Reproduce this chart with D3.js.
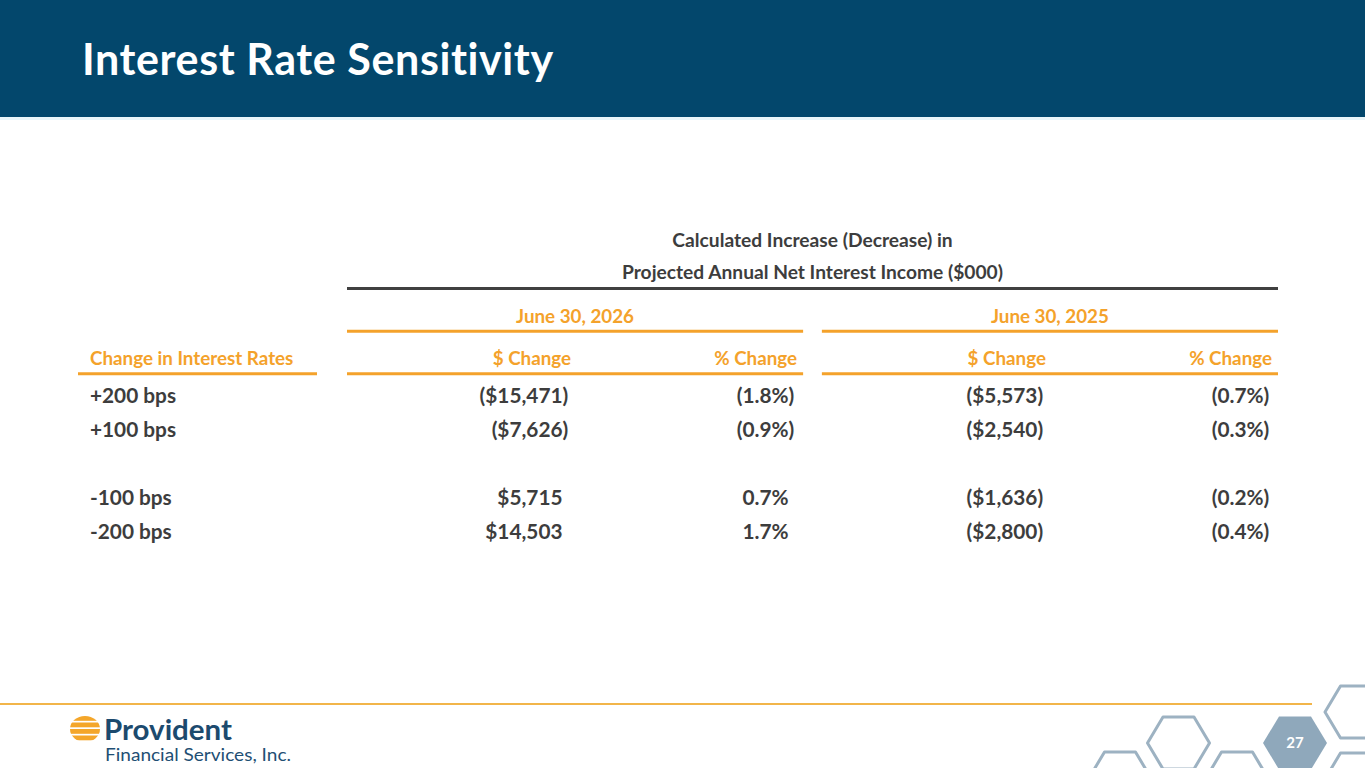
<!DOCTYPE html>
<html>
<head>
<meta charset="utf-8">
<script src="https://cdn.jsdelivr.net/npm/d3@7/dist/d3.min.js"></script>
<style>
  html, body { margin: 0; padding: 0; background: #ffffff; }
  svg { display: block; }
  text { font-family: Lato, "Open Sans", sans-serif; }
</style>
</head>
<body>
<svg id="chart" width="1365" height="768"></svg>
<script>
// ---- data ----
const title = "Interest Rate Sensitivity";
const tableTitle = ["Calculated Increase (Decrease) in", "Projected Annual Net Interest Income ($000)"];
const periods = ["June 30, 2026", "June 30, 2025"];
const measures = ["$ Change", "% Change"];
const rowHeader = "Change in Interest Rates";
const scenarios = ["+200 bps", "+100 bps", "", "-100 bps", "-200 bps"];
const dollar2026 = [-15471, -7626, null, 5715, 14503];
const pct2026 = [-1.8, -0.9, null, 0.7, 1.7];
const dollar2025 = [-5573, -2540, null, -1636, -2800];
const pct2025 = [-0.7, -0.3, null, -0.2, -0.4];
const pageNumber = "27";

// ---- colours ----
const NAVY = "#03476c", ORANGE = "#f4a22b", TEXT = "#3d3d3d", DARKLINE = "#404040";
const HEX_STROKE = "#9db2c2", HEX_FILL = "#8fa8bb";

const svg = d3.select("#chart");

// header band
svg.append("rect").attr("x", 0).attr("y", 0).attr("width", 1365).attr("height", 117).attr("fill", NAVY);
svg.append("rect").attr("x", 0).attr("y", 117).attr("width", 1365).attr("height", 3).attr("fill", "#eaf6fa");
svg.append("text").attr("x", 82).attr("y", 75)
  .attr("font-size", 43).attr("font-weight", 700).attr("fill", "#ffffff")
  .attr("letter-spacing", 0.6)
  .text(title);

// ---- table scales ----
const groupX = d3.scaleBand().domain(periods).range([347, 1278]).paddingInner(0.0395);
const colX = d3.scaleBand().domain(measures).range([0, groupX.bandwidth()]);
const rowY = d3.scalePoint().domain(d3.range(scenarios.length)).range([403, 539]);
const colRight = (p, m) => groupX(p) + colX(m) + colX.bandwidth() - (m === measures[0] ? 4 : 6); // header right edge
const DIGIT_OFFSET = 8.5; // hanging parenthesis width

const HEAD_SIZE = 18.8, DATA_SIZE = 20.8, TITLE_SIZE = 19.2;
const g = svg.append("g");

// table title
tableTitle.forEach((t, i) => {
  g.append("text").attr("x", (groupX.range()[0] + groupX.range()[1]) / 2).attr("y", 247 + i * 32)
    .attr("text-anchor", "middle").attr("font-size", TITLE_SIZE).attr("font-weight", 700).attr("fill", TEXT)
    .text(t);
});
// dark rule
g.append("line").attr("x1", groupX.range()[0]).attr("x2", groupX.range()[1])
  .attr("y1", 288.5).attr("y2", 288.5).attr("stroke", DARKLINE).attr("stroke-width", 3);

// period headers
periods.forEach(p => {
  g.append("text").attr("x", groupX(p) + groupX.bandwidth() / 2).attr("y", 323)
    .attr("text-anchor", "middle").attr("font-size", HEAD_SIZE).attr("font-weight", 700).attr("fill", ORANGE)
    .text(p);
  g.append("line").attr("x1", groupX(p)).attr("x2", groupX(p) + groupX.bandwidth())
    .attr("y1", 331.3).attr("y2", 331.3).attr("stroke", ORANGE).attr("stroke-width", 3);
  g.append("line").attr("x1", groupX(p)).attr("x2", groupX(p) + groupX.bandwidth())
    .attr("y1", 373.8).attr("y2", 373.8).attr("stroke", ORANGE).attr("stroke-width", 3);
  measures.forEach(m => {
    g.append("text").attr("x", colRight(p, m)).attr("y", 365)
      .attr("text-anchor", "end").attr("font-size", HEAD_SIZE).attr("font-weight", 700).attr("fill", ORANGE)
      .text(m);
  });
});
// row header
g.append("text").attr("x", 90).attr("y", 365).attr("font-size", HEAD_SIZE).attr("font-weight", 700)
  .attr("fill", ORANGE).text(rowHeader);
g.append("line").attr("x1", 78).attr("x2", 317).attr("y1", 373.8).attr("y2", 373.8)
  .attr("stroke", ORANGE).attr("stroke-width", 3);

// row labels
scenarios.forEach((s, i) => {
  if (!s) return;
  g.append("text").attr("x", 90).attr("y", rowY(i)).attr("font-size", DATA_SIZE).attr("font-weight", 700)
    .attr("fill", TEXT).text(s);
});

const fmtDollar = v => "$" + d3.format(",")(Math.abs(v));
const fmtPct = v => d3.format(".1f")(Math.abs(v)) + "%";
const columns = [
  { p: periods[0], m: measures[0], vals: dollar2026, f: fmtDollar },
  { p: periods[0], m: measures[1], vals: pct2026, f: fmtPct },
  { p: periods[1], m: measures[0], vals: dollar2025, f: fmtDollar },
  { p: periods[1], m: measures[1], vals: pct2025, f: fmtPct }
];
columns.forEach(c => {
  const xr = colRight(c.p, c.m) - DIGIT_OFFSET;
  c.vals.forEach((v, i) => {
    if (v === null) return;
    const neg = v < 0;
    g.append("text").attr("x", xr).attr("y", rowY(i)).attr("text-anchor", "end")
      .attr("font-size", DATA_SIZE).attr("font-weight", 700).attr("fill", TEXT)
      .text((neg ? "(" : "") + c.f(v));
    if (neg) {
      g.append("text").attr("x", xr).attr("y", rowY(i)).attr("text-anchor", "start")
        .attr("font-size", DATA_SIZE).attr("font-weight", 700).attr("fill", TEXT).text(")");
    }
  });
});

// ---- footer ----
svg.append("line").attr("x1", 0).attr("x2", 1312).attr("y1", 704).attr("y2", 704)
  .attr("stroke", "#f2b54a").attr("stroke-width", 2);

// hexagons
const hexes = [
  { cx: 1120, cy: 778, fill: false },
  { cx: 1178.5, cy: 743, fill: false },
  { cx: 1237, cy: 778, fill: false },
  { cx: 1295, cy: 743, fill: true },
  { cx: 1356, cy: 712, fill: false },
  { cx: 1356, cy: 779, fill: false }
];
const hexPath = (cx, cy, r, h) => {
  const pts = [[cx - r, cy], [cx - r / 2, cy - h], [cx + r / 2, cy - h], [cx + r, cy], [cx + r / 2, cy + h], [cx - r / 2, cy + h]];
  return d3.line()(pts) + "Z";
};
hexes.forEach(hx => {
  svg.append("path").attr("d", hexPath(hx.cx, hx.cy, hx.fill ? 32 : 31, hx.fill ? 26.5 : 26))
    .attr("fill", hx.fill ? HEX_FILL : "none")
    .attr("stroke", hx.fill ? "none" : HEX_STROKE).attr("stroke-width", 3).attr("stroke-linejoin", "round");
});
svg.append("text").attr("x", 1295).attr("y", 748).attr("text-anchor", "middle")
  .attr("font-size", 15).attr("font-weight", 700).attr("fill", "#ffffff").text(pageNumber);

// logo
const defs = svg.append("defs");
defs.append("clipPath").attr("id", "logoClip").append("ellipse")
  .attr("cx", 85).attr("cy", 729).attr("rx", 15).attr("ry", 13);
const logo = svg.append("g").attr("clip-path", "url(#logoClip)");
[716, 722.5, 729, 735.5].forEach(y => {
  logo.append("rect").attr("x", 68).attr("y", y).attr("width", 34).attr("height", 4.8).attr("fill", "#f4a62a");
});
svg.append("text").attr("x", 104).attr("y", 740).attr("font-size", 29).attr("font-weight", 700)
  .attr("fill", "#1c4a6e").attr("textLength", 128).attr("lengthAdjust", "spacingAndGlyphs").text("Provident");
svg.append("text").attr("x", 105).attr("y", 761).attr("font-size", 17).attr("font-weight", 400)
  .attr("fill", "#1f4f74").attr("textLength", 186).attr("lengthAdjust", "spacingAndGlyphs")
  .text("Financial Services, Inc.");
</script>
</body>
</html>
